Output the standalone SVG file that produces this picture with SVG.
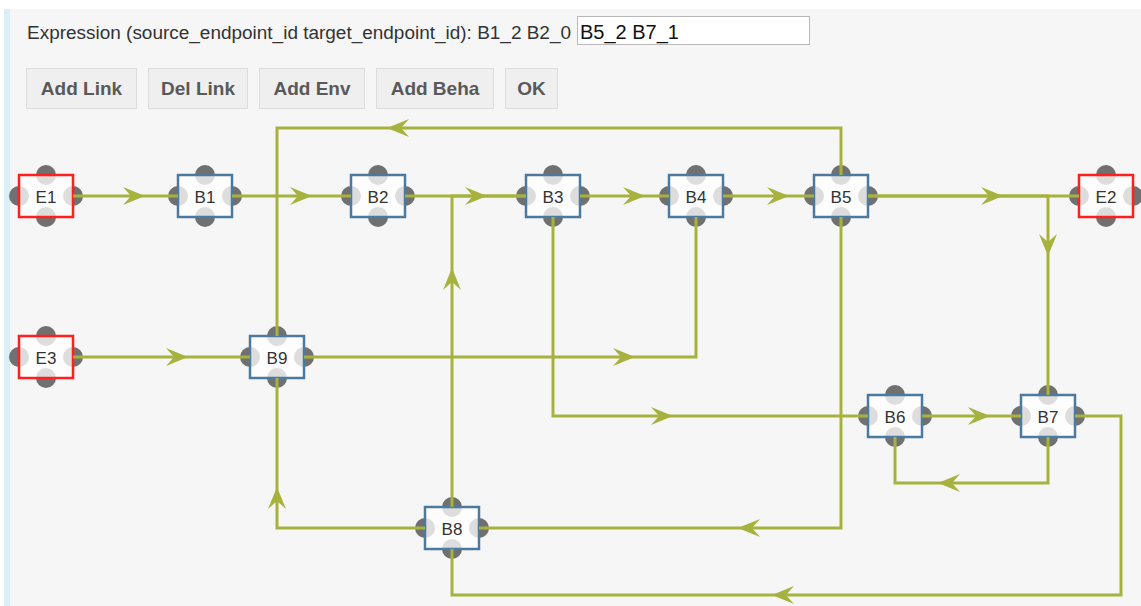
<svg xmlns="http://www.w3.org/2000/svg" xmlns:xlink="http://www.w3.org/1999/xlink" width="1141" height="606" viewBox="0 0 1141 606">
  <style>
    .panel { fill: #f6f6f6; }
    .strip { fill: #dbeff9; }
    .label { font-family: "Liberation Sans", Arial, sans-serif; font-size: 18px; fill: #333333; }
    .input { fill: #ffffff; stroke: #b9b9b9; stroke-width: 1; }
    .input-text { font-family: "Liberation Sans", Arial, sans-serif; font-size: 20px; fill: #111111; }
    .btn { fill: #efefef; stroke: #dcdcdc; stroke-width: 1; }
    .btn-text { font-family: "Liberation Sans", Arial, sans-serif; font-size: 19px; font-weight: bold; fill: #595959; text-anchor: middle; }
    .ep { fill: #707070; }
    .box { fill: #ffffff; fill-opacity: 0.76; stroke-width: 2.5; }
    .env { stroke: #ff1f1f; }
    .beh { stroke: #4b7aa0; }
    .name { font-family: "Liberation Sans", Arial, sans-serif; font-size: 17px; fill: #333333; text-anchor: middle; }
    .link { fill: none; stroke: #a7b23e; stroke-width: 3; }
    .head { fill: #a7b23e; }
  </style>
  <defs>
    <!-- swept-back arrowhead, tip at the origin, pointing along +x -->
    <path id="arrow" class="head" d="M0,0 L-22,-9 L-14,0 L-22,9 Z"/>
    <!-- four endpoint dots around a 54x42 box centred on the origin -->
    <g id="ports">
      <circle class="ep" cx="0" cy="-21" r="10"/>
      <circle class="ep" cx="0" cy="21" r="10"/>
      <circle class="ep" cx="-27" cy="0" r="10"/>
      <circle class="ep" cx="27" cy="0" r="10"/>
    </g>
  </defs>

  <!-- page background -->
  <rect x="0" y="0" width="1141" height="606" fill="#ffffff"/>
  <rect class="panel" x="10" y="9" width="1131" height="597"/>
  <rect class="strip" x="4" y="9" width="6" height="597"/>

  <!-- toolbar -->
  <g id="toolbar">
    <text class="label" x="27" y="39" textLength="544" lengthAdjust="spacingAndGlyphs">Expression (source_endpoint_id target_endpoint_id): B1_2 B2_0</text>
    <rect class="input" x="577.5" y="16.5" width="232" height="28"/>
    <text class="input-text" x="580" y="39">B5_2 B7_1</text>
    <rect class="btn" x="26.5" y="68.5" width="110" height="40"/>
    <text class="btn-text" x="81.5" y="95">Add Link</text>
    <rect class="btn" x="148.5" y="68.5" width="99" height="40"/>
    <text class="btn-text" x="198" y="95">Del Link</text>
    <rect class="btn" x="259.5" y="68.5" width="105" height="40"/>
    <text class="btn-text" x="312" y="95">Add Env</text>
    <rect class="btn" x="376.5" y="68.5" width="117" height="40"/>
    <text class="btn-text" x="435" y="95">Add Beha</text>
    <rect class="btn" x="505.5" y="68.5" width="52" height="40"/>
    <text class="btn-text" x="531.5" y="95">OK</text>
  </g>

  <!-- nodes -->
  <g id="node-E1" transform="translate(46,196)">
    <use xlink:href="#ports" href="#ports"/>
    <rect class="box env" x="-27" y="-21" width="54" height="42"/>
    <text class="name" x="0" y="6.5">E1</text>
  </g>
  <g id="node-B1" transform="translate(205,196)">
    <use xlink:href="#ports" href="#ports"/>
    <rect class="box beh" x="-27" y="-21" width="54" height="42"/>
    <text class="name" x="0" y="6.5">B1</text>
  </g>
  <g id="node-B2" transform="translate(378,196)">
    <use xlink:href="#ports" href="#ports"/>
    <rect class="box beh" x="-27" y="-21" width="54" height="42"/>
    <text class="name" x="0" y="6.5">B2</text>
  </g>
  <g id="node-B3" transform="translate(553,196)">
    <use xlink:href="#ports" href="#ports"/>
    <rect class="box beh" x="-27" y="-21" width="54" height="42"/>
    <text class="name" x="0" y="6.5">B3</text>
  </g>
  <g id="node-B4" transform="translate(696,196)">
    <use xlink:href="#ports" href="#ports"/>
    <rect class="box beh" x="-27" y="-21" width="54" height="42"/>
    <text class="name" x="0" y="6.5">B4</text>
  </g>
  <g id="node-B5" transform="translate(841,196)">
    <use xlink:href="#ports" href="#ports"/>
    <rect class="box beh" x="-27" y="-21" width="54" height="42"/>
    <text class="name" x="0" y="6.5">B5</text>
  </g>
  <g id="node-E2" transform="translate(1106,196)">
    <use xlink:href="#ports" href="#ports"/>
    <rect class="box env" x="-27" y="-21" width="54" height="42"/>
    <text class="name" x="0" y="6.5">E2</text>
  </g>
  <g id="node-E3" transform="translate(46,357)">
    <use xlink:href="#ports" href="#ports"/>
    <rect class="box env" x="-27" y="-21" width="54" height="42"/>
    <text class="name" x="0" y="6.5">E3</text>
  </g>
  <g id="node-B9" transform="translate(277,357)">
    <use xlink:href="#ports" href="#ports"/>
    <rect class="box beh" x="-27" y="-21" width="54" height="42"/>
    <text class="name" x="0" y="6.5">B9</text>
  </g>
  <g id="node-B6" transform="translate(895,416)">
    <use xlink:href="#ports" href="#ports"/>
    <rect class="box beh" x="-27" y="-21" width="54" height="42"/>
    <text class="name" x="0" y="6.5">B6</text>
  </g>
  <g id="node-B7" transform="translate(1048,416)">
    <use xlink:href="#ports" href="#ports"/>
    <rect class="box beh" x="-27" y="-21" width="54" height="42"/>
    <text class="name" x="0" y="6.5">B7</text>
  </g>
  <g id="node-B8" transform="translate(452,528)">
    <use xlink:href="#ports" href="#ports"/>
    <rect class="box beh" x="-27" y="-21" width="54" height="42"/>
    <text class="name" x="0" y="6.5">B8</text>
  </g>

  <!-- links -->
  <g id="connectors">
    <path class="link" d="M73,196 H178"/>
    <path class="link" d="M232,196 H351"/>
    <path class="link" d="M405,196 H526"/>
    <path class="link" d="M580,196 H669"/>
    <path class="link" d="M723,196 H814"/>
    <path class="link" d="M868,196 H1079"/>
    <path class="link" d="M868,196 H1048 V395"/>
    <path class="link" d="M841,175 V128 H277 V336"/>
    <path class="link" d="M841,217 V528 H479"/>
    <path class="link" d="M553,217 V416 H868"/>
    <path class="link" d="M304,357 H696 V217"/>
    <path class="link" d="M73,357 H250"/>
    <path class="link" d="M425,528 H277 V378"/>
    <path class="link" d="M452,507 V196 H526"/>
    <path class="link" d="M922,416 H1021"/>
    <path class="link" d="M1048,437 V483 H895 V437"/>
    <path class="link" d="M1075,416 H1121 V595 H452 V549"/>

    <use xlink:href="#arrow" href="#arrow" transform="translate(145,196)"/>
    <use xlink:href="#arrow" href="#arrow" transform="translate(312,196)"/>
    <use xlink:href="#arrow" href="#arrow" transform="translate(487,196)"/>
    <use xlink:href="#arrow" href="#arrow" transform="translate(645,196)"/>
    <use xlink:href="#arrow" href="#arrow" transform="translate(789,196)"/>
    <use xlink:href="#arrow" href="#arrow" transform="translate(1003,196)"/>
    <use xlink:href="#arrow" href="#arrow" transform="translate(1048,256) rotate(90)"/>
    <use xlink:href="#arrow" href="#arrow" transform="translate(387,128) rotate(180)"/>
    <use xlink:href="#arrow" href="#arrow" transform="translate(738,528) rotate(180)"/>
    <use xlink:href="#arrow" href="#arrow" transform="translate(673,416)"/>
    <use xlink:href="#arrow" href="#arrow" transform="translate(635,357)"/>
    <use xlink:href="#arrow" href="#arrow" transform="translate(188,357)"/>
    <use xlink:href="#arrow" href="#arrow" transform="translate(277,487) rotate(-90)"/>
    <use xlink:href="#arrow" href="#arrow" transform="translate(452,268) rotate(-90)"/>
    <use xlink:href="#arrow" href="#arrow" transform="translate(990,416)"/>
    <use xlink:href="#arrow" href="#arrow" transform="translate(938,483) rotate(180)"/>
    <use xlink:href="#arrow" href="#arrow" transform="translate(772,595) rotate(180)"/>
  </g>
</svg>
